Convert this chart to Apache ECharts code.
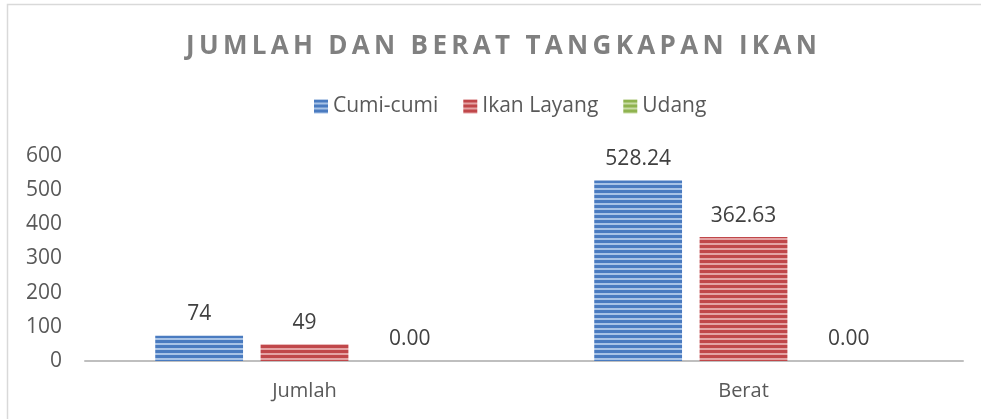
<!DOCTYPE html>
<html>
<head>
<meta charset="utf-8">
<script src="https://cdn.jsdelivr.net/npm/echarts@6/dist/echarts.min.js"></script>
<style>
  html, body { margin: 0; padding: 0; background: #fff; }
  #chart { width: 981px; height: 419px; }
</style>
</head>
<body>
<div id="chart"></div>
<script>
var titleText = 'JUMLAH DAN BERAT TANGKAPAN IKAN';
var categories = ['Jumlah', 'Berat'];
var seriesNames = ['Cumi-cumi', 'Ikan Layang', 'Udang'];
var cumiValues = [74, 528.24];
var layangValues = [49, 362.63];
var udangValues = [0, 0];
var labelTexts = [['74', '528.24'], ['49', '362.63'], ['0.00', '0.00']];

var font = '"Open Sans", sans-serif';

// striped fill like the office chart
function stripes(dark, light) {
  var c = document.createElement('canvas');
  c.width = 4; c.height = 5;
  var ctx = c.getContext('2d');
  ctx.fillStyle = light;
  ctx.fillRect(0, 0, 4, 5);
  ctx.fillStyle = dark;
  ctx.fillRect(0, 0, 4, 3);
  return { image: c, repeat: 'repeat' };
}

var fills = [
  stripes('#4a7bc0', '#a8c3e6'),
  stripes('#c0474a', '#e4a3a4'),
  stripes('#8fb34f', '#c9dca6')
];
var values = [cumiValues, layangValues, udangValues];

var chartDom = document.getElementById('chart');
var myChart = echarts.init(chartDom);
var option;

option = {
  animation: false,
  title: {
    // spaced out letters, like the original heading
    text: titleText.split('').join('\u2009'),
    left: 181,
    top: 29,
    textStyle: { fontFamily: font, fontSize: 26, fontWeight: 'bold', color: '#808080' }
  },
  legend: {
    top: 91,
    left: 309,
    icon: 'rect',
    itemWidth: 14,
    itemHeight: 14,
    itemGap: 25,
    textStyle: { fontFamily: font, fontSize: 21, color: '#595959' },
    data: seriesNames
  },
  graphic: [{
    type: 'rect',
    shape: { x: 7.5, y: 4.5, width: 1000, height: 500 },
    style: { fill: 'none', stroke: '#d9d9d9', lineWidth: 1.5 },
    silent: true
  }],
  grid: { left: 85, right: 18, top: 156, bottom: 58 },
  xAxis: {
    type: 'category',
    data: categories,
    axisLine: { lineStyle: { color: '#bfbfbf', width: 2 } },
    axisTick: { show: false },
    axisLabel: { fontFamily: font, fontSize: 20, color: '#595959', margin: 20 }
  },
  yAxis: {
    type: 'value',
    min: 0,
    max: 600,
    interval: 100,
    splitLine: { show: false },
    axisLine: { show: false },
    axisLabel: { fontFamily: font, fontSize: 21, color: '#595959', margin: 23 }
  },
  series: seriesNames.map(function (name, i) {
    return {
      name: name,
      type: 'bar',
      data: values[i],
      barWidth: '20%',
      barGap: '20%',
      itemStyle: { color: fills[i] },
      label: {
        show: true,
        position: 'top',
        distance: 11,
        fontFamily: font,
        fontSize: 21,
        color: '#404040',
        formatter: function (p) { return labelTexts[i][p.dataIndex]; }
      }
    };
  })
};

option && myChart.setOption(option);
</script>
</body>
</html>
